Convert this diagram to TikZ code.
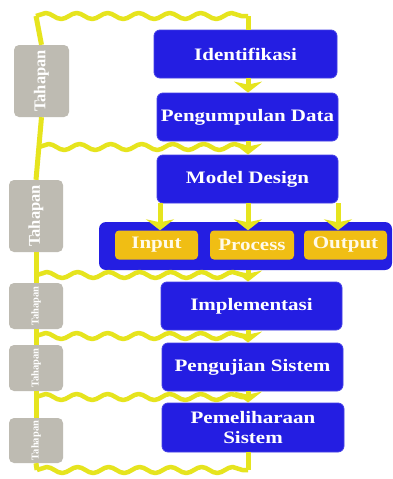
\documentclass[tikz,border=0pt]{standalone}
\usepackage{fontspec}
\setmainfont{Liberation Serif}
\newfontfamily\boxfont{Liberation Serif}[FakeStretch=1.2]
\usetikzlibrary{decorations.pathmorphing,arrows.meta,calc}
\definecolor{bluebox}{RGB}{36,30,226}
\definecolor{graybox}{RGB}{190,187,178}
\definecolor{orangebox}{RGB}{240,190,20}
\definecolor{wavey}{RGB}{230,228,30}
\definecolor{cream}{RGB}{255,250,232}
\begin{document}
\begin{tikzpicture}[x=1pt,y=-1pt,
  stage/.style={draw=bluebox!85!white, line width=0.8pt, fill=bluebox, rounded corners=6pt,
    text=white, font=\boxfont\bfseries\fontsize{17.5}{20}\selectfont, align=center, inner sep=0pt},
  iobox/.style={fill=bluebox, rounded corners=7pt, inner sep=0pt},
  subbox/.style={fill=orangebox, rounded corners=4pt, text=cream,
    font=\boxfont\bfseries\fontsize{17.5}{20}\selectfont, inner sep=0pt},
  phase/.style={fill=graybox, rounded corners=5pt, text=white, inner sep=0pt},
  bigtxt/.style={font=\bfseries\fontsize{16.5}{18}\selectfont},
  smalltxt/.style={font=\bfseries\fontsize{10.5}{12}\selectfont},
  vline/.style={draw=wavey, line width=5pt},
  wave/.style={draw=wavey, line width=4.5pt, line join=round, decorate,
    decoration={snake, segment length=31pt, amplitude=3pt}},
  arr/.style={draw=wavey, line width=5pt, -{Stealth[width=28pt,length=11pt,inset=3pt]}}
]
\fill[white] (0,0) rectangle (393,479);
\useasboundingbox (0,0) rectangle (393,479);

% main stages
\node[stage, minimum width=183pt, minimum height=48pt] (id) at (245.5,54) {Identifikasi};
\node[stage, minimum width=181pt, minimum height=48pt] (pd) at (247.5,117) {Pengumpulan Data};
\node[stage, minimum width=181pt, minimum height=48pt] (md) at (247.5,179) {Model Design};
\node[iobox, minimum width=293pt, minimum height=48pt] (io) at (245.5,246) {};
\node[subbox, minimum width=83pt, minimum height=29pt] (in) at (156.5,245) {Input};
\node[subbox, minimum width=84pt, minimum height=29pt] (pr) at (252,245) {Process};
\node[subbox, minimum width=83pt, minimum height=29pt] (out) at (345.5,245) {Output};
\node[stage, minimum width=181pt, minimum height=48pt] (im) at (251.5,306) {Implementasi};
\node[stage, minimum width=181pt, minimum height=48pt] (pu) at (252.5,367) {Pengujian Sistem};
\node[stage, minimum width=182pt, minimum height=49pt] (pm) at (253,427.5) {Pemeliharaan\\Sistem};

% phase boxes
\node[phase, minimum width=55pt, minimum height=72pt] (t1) at (41.5,81) {};
\node[phase, minimum width=54pt, minimum height=72pt] (t2) at (36,216) {};
\node[phase, minimum width=54pt, minimum height=46pt] (t3) at (36,306) {};
\node[phase, minimum width=54pt, minimum height=46pt] (t4) at (36,368) {};
\node[phase, minimum width=54pt, minimum height=45pt] (t5) at (36,440.5) {};
\node[bigtxt, text=white, rotate=90] (t1l) at (t1) {Tahapan};
\node[bigtxt, text=white, rotate=90] (t2l) at (t2) {Tahapan};
\node[smalltxt, text=white, rotate=90] (t3l) at (t3) {Tahapan};
\node[smalltxt, text=white, rotate=90] (t4l) at (t4) {Tahapan};
\node[smalltxt, text=white, rotate=90] (t5l) at (t5) {Tahapan};

% reference x positions
\coordinate (ax) at (248,0);
\coordinate (inx) at (160,0);
\coordinate (outx) at (338,0);

% junctions on the left
\coordinate (c0) at (36,16);
\coordinate (c1) at (39,147);
\coordinate (c2) at (37,275);
\coordinate (c3) at (36,336);
\coordinate (c4) at (36,397);
\coordinate (c5) at (37,470);

% left spine
\draw[vline] (c0) -- (t1.north);
\draw[vline] (t1.south) -- (t2.north);
\draw[vline] (t2.south) -- (t3.north);
\draw[vline] (t3.south) -- (t4.north);
\draw[vline] (t4.south) -- (t5.north);
\draw[vline] (t5.south) -- (c5);

% waves
\draw[wave] (c0) -- (ax |- c0);
\draw[vline] (ax |- c0) -- (ax |- id.north);
\draw[wave] (c1) -- (ax |- c1);
\draw[wave] (c2) -- (ax |- c2);
\draw[wave] (c3) -- (ax |- c3);
\draw[wave] (c4) -- (ax |- c4);
\draw[wave] (c5) -- (ax |- c5);
\draw[vline] (ax |- pm.south) -- (ax |- c5);

% arrows
\draw[arr] (ax |- id.south) -- (ax |- pd.north);
\draw[arr] (ax |- pd.south) -- (ax |- md.north);
\draw[arr] (inx |- md.south) -- (inx |- in.north);
\draw[arr] (ax |- md.south) -- (ax |- pr.north);
\draw[arr] (outx |- md.south) -- (outx |- out.north);
\draw[arr] (ax |- io.south) -- (ax |- im.north);
\draw[arr] (ax |- im.south) -- (ax |- pu.north);
\draw[arr] (ax |- pu.south) -- (ax |- pm.north);
\end{tikzpicture}
\end{document}
